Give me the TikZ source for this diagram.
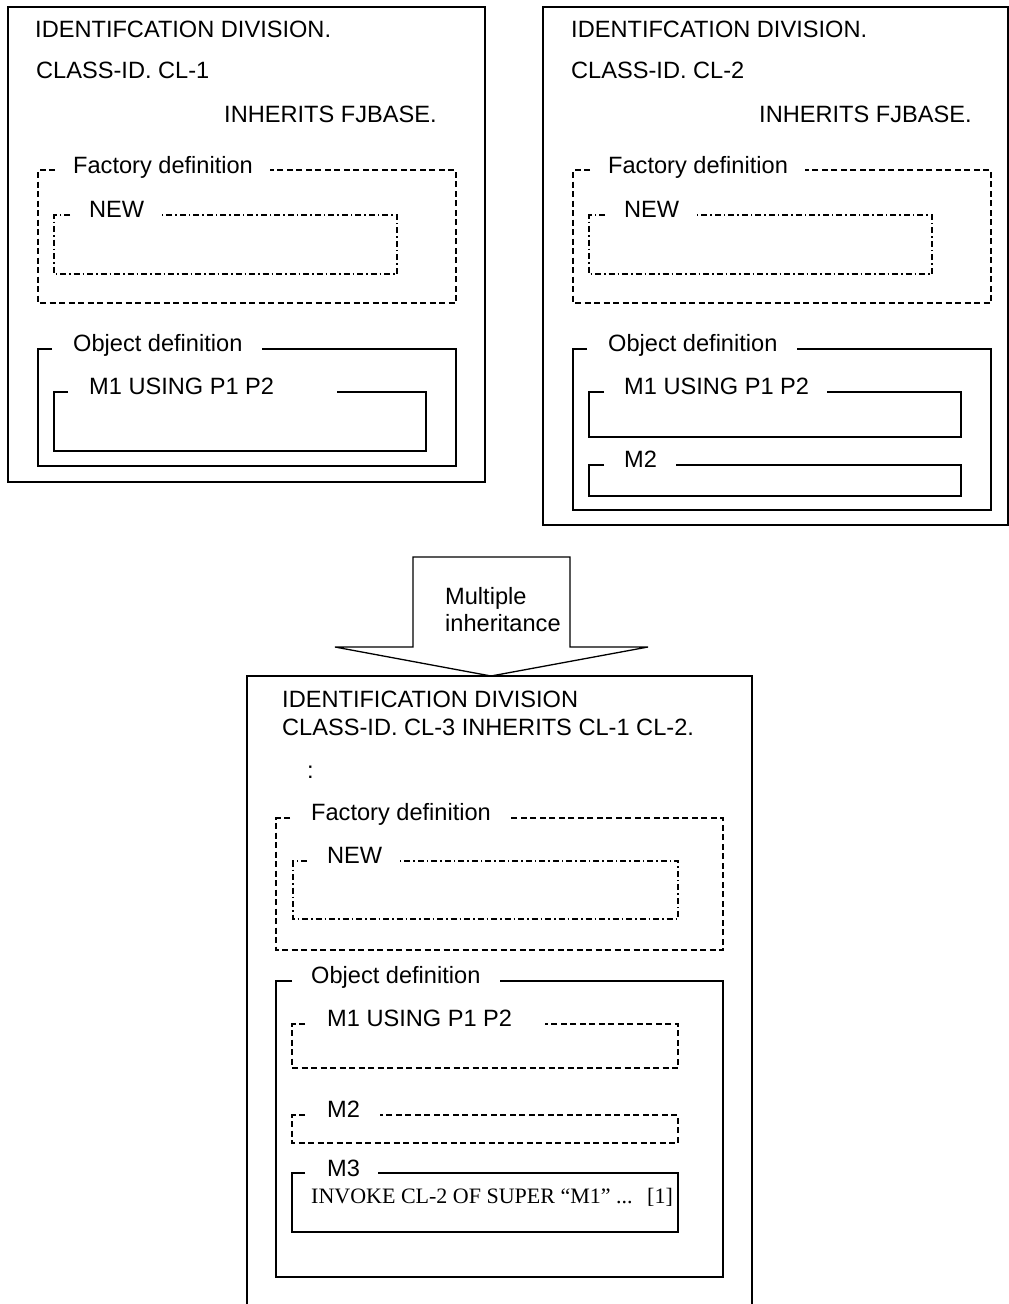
\documentclass[tikz,border=0pt]{standalone}
\usepackage{fontspec}
\setmainfont{Liberation Sans}
\newfontfamily\codeserif{Liberation Serif}
\usepackage{tikz}
\usetikzlibrary{positioning}

\begin{document}
\begin{tikzpicture}[x=1pt,y=-1pt,
        t/.style={anchor=base west,inner sep=0pt,font=\fontsize{23.6}{28}\selectfont},
        fr/.style={line width=1.3pt},
        fd/.style={line width=1.3pt,dash pattern=on 6pt off 3.5pt},
        fdd/.style={line width=1.3pt,dash pattern=on 6pt off 3pt on 1.5pt off 3pt}]
        \useasboundingbox (0,0) rectangle (1009,1304);
        % class CL-1
        \draw[fr] (8,7) rectangle (485,482);
        \node[t] (id1) at (35,37) {IDENTIFCATION DIVISION.};
        \node[t] (cls1) at (36,78) {CLASS-ID. CL-1};
        \node[t] (inh1) at (224,122) {INHERITS FJBASE.};
        \node[t] (fac1) at (73,173) {Factory definition};
        \node[t] (new1) at (89,217) {NEW};
        \node[t] (obj1) at (73,351) {Object definition};
        \node[t] (ma1) at (89,394) {M1 USING P1 P2};
        % class CL-2
        \draw[fr] (543,7) rectangle (1008,525);
        \node[t] (id2) at (571,37) {IDENTIFCATION DIVISION.};
        \node[t] (cls2) at (571,78) {CLASS-ID. CL-2};
        \node[t] (inh2) at (759,122) {INHERITS FJBASE.};
        \node[t] (fac2) at (608,173) {Factory definition};
        \node[t] (new2) at (624,217) {NEW};
        \node[t] (obj2) at (608,351) {Object definition};
        \node[t] (ma2) at (624,394) {M1 USING P1 P2};
        \node[t] (mb2) at (624,467) {M2};
        % the arrow
        \draw[fr,fill=white] (413,557) -- (570,557) -- (570,647) -- (648,647) -- (491,676)
          -- (335,647) -- (413,647) -- cycle;
        \node[t] (mul) at (445,604) {Multiple};
        \node[t] (inhr) at (445,631) {inheritance};
        % class CL-3
        \draw[fr] (247,1310) -- (247,676) -- (752,676) -- (752,1310);
        \node[t] (id3) at (282,707) {IDENTIFICATION DIVISION};
        \node[t] (cls3) at (282,735) {CLASS-ID. CL-3 INHERITS CL-1 CL-2.};
        \node[t] (dots) at (307,778) {:};
        \node[t] (fac3) at (311,820) {Factory definition};
        \node[t] (new3) at (327,863) {NEW};
        \node[t] (obj3) at (311,983) {Object definition};
        \node[t] (ma3) at (327,1026) {M1 USING P1 P2};
        \node[t] (mb3) at (327,1117) {M2};
        \node[t] (mc3) at (327,1176) {M3};
        \node[t,font=\codeserif\fontsize{22}{24}\selectfont] (inv) at (311,1203)
          {INVOKE CL-2 OF SUPER “M1” ...};
        \node[t,font=\codeserif\fontsize{22}{24}\selectfont] (ref) at (647,1203) {[1]};
        % frames with a gap for the label
        \foreach \xa/\ya/\xb/\yb/\ga/\gb in {38/349/456/466/52/262,54/392/426/451/68/337,
            573/349/991/510/587/797,589/392/961/437/604/827,589/465/961/496/604/676,
            276/981/723/1277/292/500,292/1173/678/1232/305/378}
          \draw[fr] (\ga,\ya) -| (\xa,\yb) -| (\xb,\ya) -- (\gb,\ya);
        \foreach \xa/\ya/\xb/\yb/\ga/\gb in {38/170/456/303/55/270,573/170/991/303/590/805,
            276/818/723/950/290/508,292/1024/678/1068/305/545,292/1115/678/1143/305/380}
          \draw[fd] (\ga,\ya) -| (\xa,\yb) -| (\xb,\ya) -- (\gb,\ya);
        \foreach \xa/\ya/\xb/\yb/\ga/\gb in {54/215/397/274/70/162,589/215/932/274/605/697,
            293/861/678/919/307/400}
          \draw[fdd] (\ga,\ya) -| (\xa,\yb) -| (\xb,\ya) -- (\gb,\ya);
      \end{tikzpicture}
\end{document}
